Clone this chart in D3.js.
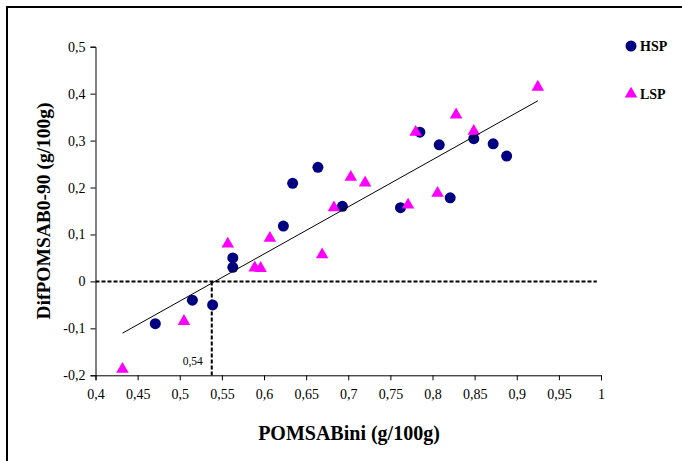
<!DOCTYPE html>
<html>
<head>
<meta charset="utf-8">
<script src="https://cdn.jsdelivr.net/npm/d3@7/dist/d3.min.js"></script>
<style>
html,body{margin:0;padding:0;background:#fff;}
svg{display:block;}
</style>
</head>
<body>
<svg id="chart" width="682" height="461"></svg>
<script>
// ---- data ----
const hspX = [0.471,0.515,0.539,0.563,0.563,0.623,0.634,0.664,0.693,0.762,0.785,0.808,0.821,0.849,0.872,0.888];
const hspY = [-0.090,-0.040,-0.050,0.050,0.030,0.118,0.209,0.243,0.160,0.157,0.318,0.291,0.178,0.304,0.293,0.267];
const lspX = [0.432,0.505,0.557,0.589,0.596,0.607,0.669,0.683,0.703,0.720,0.771,0.780,0.806,0.828,0.849,0.925];
const lspY = [-0.187,-0.085,0.080,0.029,0.028,0.092,0.057,0.157,0.222,0.210,0.163,0.318,0.188,0.355,0.320,0.414];
const trendSlope = 1.004;
const trendIntercept = -0.544;
const trendRange = [0.432, 0.925];
const thresholdX = 0.538;
const thresholdLabel = "0,54";
const xTicks = [0.4,0.45,0.5,0.55,0.6,0.65,0.7,0.75,0.8,0.85,0.9,0.95,1];
const yTicks = [-0.2,-0.1,0,0.1,0.2,0.3,0.4,0.5];
const seriesNames = ["HSP","LSP"];
const xTitle = "POMSABini (g/100g)";
const yTitle = "DifPOMSAB0-90 (g/100g)";

const fmt = v => String(+v.toFixed(2)).replace(".", ",");

const svg = d3.select("#chart");
const x = d3.scaleLinear().domain([0.4, 1]).range([95.5, 601]);
const y = d3.scaleLinear().domain([-0.2, 0.5]).range([375.3, 46.7]);

// frame
svg.append("line").attr("x1",7).attr("x2",7).attr("y1",6).attr("y2",461).attr("stroke","#000").attr("stroke-width",2);
svg.append("line").attr("x1",6).attr("x2",682).attr("y1",7).attr("y2",7).attr("stroke","#000").attr("stroke-width",2);

const font = "'Liberation Serif','Times New Roman',serif";

// axes
const xAxis = svg.append("g").attr("transform",`translate(0,${y(-0.2)})`)
  .call(d3.axisBottom(x).tickValues(xTicks).tickFormat(fmt).tickSize(5).tickPadding(9));
const yAxis = svg.append("g").attr("transform",`translate(${x(0.4)},0)`)
  .call(d3.axisLeft(y).tickValues(yTicks).tickFormat(fmt).tickSize(5).tickPadding(5));
[xAxis,yAxis].forEach(a=>{
  a.select(".domain").attr("stroke","#000").attr("stroke-width",1);
  a.selectAll(".tick line").attr("stroke","#000");
  a.selectAll("text").attr("font-family",font).attr("font-size",14).attr("fill","#000");
});

// dashed reference lines
svg.append("line").attr("x1",x(0.4)).attr("x2",x(0.995)).attr("y1",y(0)).attr("y2",y(0))
  .attr("stroke","#000").attr("stroke-width",2).attr("stroke-dasharray","4,2");
svg.append("line").attr("x1",x(thresholdX)).attr("x2",x(thresholdX)).attr("y1",y(0)).attr("y2",y(-0.2))
  .attr("stroke","#000").attr("stroke-width",2).attr("stroke-dasharray","4,2");
svg.append("text").attr("x",x(thresholdX)-9).attr("y",y(-0.2)-10).attr("text-anchor","end")
  .attr("font-family",font).attr("font-size",11.5).text(thresholdLabel);

// points
const hsp = hspX.map((v,i)=>({x:v,y:hspY[i]}));
const lsp = lspX.map((v,i)=>({x:v,y:lspY[i]}));
svg.append("g").selectAll("circle").data(hsp).join("circle")
  .attr("cx",d=>x(d.x)).attr("cy",d=>y(d.y)).attr("r",5.5).attr("fill","#000080");
const tri = d3.symbol().type(d3.symbolTriangle).size(68);
svg.append("g").selectAll("path").data(lsp).join("path")
  .attr("d",tri).attr("transform",d=>`translate(${x(d.x)},${y(d.y)})`).attr("fill","#FF00FF");

// trend line
svg.append("line")
  .attr("x1",x(trendRange[0])).attr("y1",y(trendSlope*trendRange[0]+trendIntercept))
  .attr("x2",x(trendRange[1])).attr("y2",y(trendSlope*trendRange[1]+trendIntercept))
  .attr("stroke","#000").attr("stroke-width",1);

// axis titles
svg.append("text").attr("x",349).attr("y",440).attr("text-anchor","middle")
  .attr("font-family",font).attr("font-size",20).attr("font-weight","bold").text(xTitle);
svg.append("text").attr("transform","translate(50,211) rotate(-90)").attr("text-anchor","middle")
  .attr("font-family",font).attr("font-size",19.5).attr("font-weight","bold").text(yTitle);

// legend
const lg = svg.append("g");
lg.append("circle").attr("cx",631).attr("cy",46).attr("r",5.5).attr("fill","#000080");
lg.append("path").attr("d",tri).attr("transform","translate(631,94)").attr("fill","#FF00FF");
lg.append("text").attr("x",640).attr("y",51).attr("font-family",font).attr("font-size",14).attr("font-weight","bold").text(seriesNames[0]);
lg.append("text").attr("x",640).attr("y",99).attr("font-family",font).attr("font-size",14).attr("font-weight","bold").text(seriesNames[1]);
</script>
</body>
</html>
